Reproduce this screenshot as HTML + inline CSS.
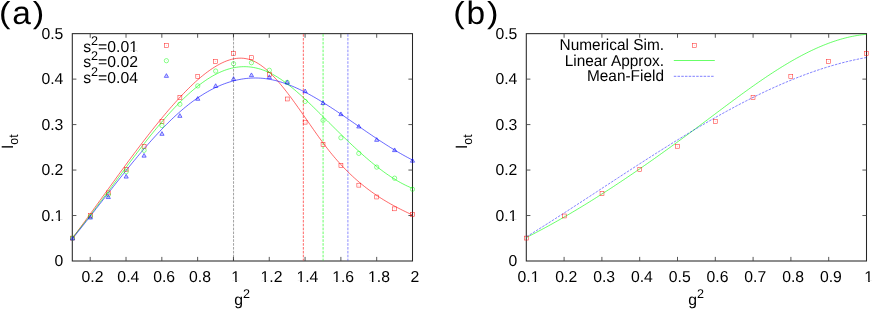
<!DOCTYPE html>
<html><head><meta charset="utf-8"><title>figure</title>
<style>html,body{margin:0;padding:0;background:#fff;}svg{display:block;}text{font-family:"Liberation Sans",sans-serif;fill:#000;text-rendering:geometricPrecision;}</style></head><body>
<svg width="872" height="310" viewBox="0 0 872 310">
<rect x="0" y="0" width="872" height="310" fill="#fff"/>
<g stroke="#262626" stroke-width="1.05" fill="none">
<rect x="72.30" y="33.65" width="340.20" height="227.35"/>
<path d="M90.21,261.00 v-4.10 M90.21,33.65 v4.10 M126.02,261.00 v-4.10 M126.02,33.65 v4.10 M161.83,261.00 v-4.10 M161.83,33.65 v4.10 M197.64,261.00 v-4.10 M197.64,33.65 v4.10 M233.45,261.00 v-4.10 M233.45,33.65 v4.10 M269.26,261.00 v-4.10 M269.26,33.65 v4.10 M305.07,261.00 v-4.10 M305.07,33.65 v4.10 M340.88,261.00 v-4.10 M340.88,33.65 v4.10 M376.69,261.00 v-4.10 M376.69,33.65 v4.10 M72.30,215.53 h4.10 M412.50,215.53 h-4.10 M72.30,170.06 h4.10 M412.50,170.06 h-4.10 M72.30,124.59 h4.10 M412.50,124.59 h-4.10 M72.30,79.12 h4.10 M412.50,79.12 h-4.10" stroke-width="0.9" stroke="#444"/>
</g>
<path d="M233.55,34.15 V260.50" stroke="#000" stroke-width="0.60" stroke-dasharray="2.6,1.27" fill="none" opacity="0.62"/>
<path d="M303.34,34.15 V260.50" stroke="#ff0000" stroke-width="1.00" stroke-dasharray="2.6,1.27" fill="none" opacity="0.60"/>
<path d="M323.08,34.15 V260.50" stroke="#00ff00" stroke-width="1.00" stroke-dasharray="2.6,1.27" fill="none" opacity="0.60"/>
<path d="M347.90,34.15 V260.50" stroke="#0000ff" stroke-width="1.00" stroke-dasharray="2.6,1.27" fill="none" opacity="0.45"/>
<path d="M72.50,238.03 L74.21,235.74 L75.92,233.45 L77.63,231.15 L79.33,228.84 L81.04,226.52 L82.75,224.20 L84.46,221.87 L86.17,219.53 L87.88,217.19 L89.59,214.84 L91.29,212.49 L93.00,210.13 L94.71,207.77 L96.42,205.40 L98.13,203.04 L99.84,200.67 L101.55,198.30 L103.25,195.93 L104.96,193.56 L106.67,191.19 L108.38,188.82 L110.09,186.45 L111.80,184.08 L113.51,181.72 L115.21,179.36 L116.92,177.00 L118.63,174.64 L120.34,172.29 L122.05,169.95 L123.76,167.61 L125.46,165.28 L127.17,162.95 L128.88,160.63 L130.59,158.32 L132.30,156.02 L134.01,153.72 L135.72,151.44 L137.42,149.17 L139.13,146.90 L140.84,144.65 L142.55,142.41 L144.26,140.18 L145.97,137.96 L147.68,135.76 L149.38,133.57 L151.09,131.39 L152.80,129.23 L154.51,127.09 L156.22,124.96 L157.93,122.85 L159.64,120.75 L161.34,118.67 L163.05,116.61 L164.76,114.57 L166.47,112.55 L168.18,110.54 L169.89,108.56 L171.60,106.60 L173.30,104.66 L175.01,102.74 L176.72,100.84 L178.43,98.97 L180.14,97.12 L181.85,95.30 L183.56,93.51 L185.26,91.74 L186.97,90.01 L188.68,88.30 L190.39,86.63 L192.10,84.99 L193.81,83.38 L195.52,81.81 L197.22,80.28 L198.93,78.78 L200.64,77.32 L202.35,75.91 L204.06,74.53 L205.77,73.20 L207.47,71.91 L209.18,70.67 L210.89,69.48 L212.60,68.33 L214.31,67.23 L216.02,66.18 L217.73,65.18 L219.43,64.24 L221.14,63.35 L222.85,62.52 L224.56,61.76 L226.27,61.06 L227.98,60.43 L229.69,59.87 L231.39,59.39 L233.10,58.98 L234.81,58.65 L236.52,58.40 L238.23,58.24 L239.94,58.16 L241.65,58.18 L243.35,58.29 L245.06,58.50 L246.77,58.80 L248.48,59.21 L250.19,59.72 L251.90,60.34 L253.61,61.06 L255.31,61.89 L257.02,62.83 L258.73,63.86 L260.44,64.99 L262.15,66.21 L263.86,67.52 L265.57,68.91 L267.27,70.39 L268.98,71.94 L270.69,73.58 L272.40,75.28 L274.11,77.05 L275.82,78.90 L277.53,80.80 L279.23,82.76 L280.94,84.78 L282.65,86.85 L284.36,88.98 L286.07,91.15 L287.78,93.36 L289.48,95.61 L291.19,97.90 L292.90,100.23 L294.61,102.58 L296.32,104.96 L298.03,107.36 L299.74,109.79 L301.44,112.23 L303.15,114.68 L304.86,117.14 L306.57,119.60 L308.28,122.06 L309.99,124.52 L311.70,126.98 L313.40,129.42 L315.11,131.86 L316.82,134.27 L318.53,136.66 L320.24,139.03 L321.95,141.37 L323.66,143.67 L325.36,145.94 L327.07,148.17 L328.78,150.36 L330.49,152.50 L332.20,154.60 L333.91,156.65 L335.62,158.65 L337.32,160.61 L339.03,162.53 L340.74,164.40 L342.45,166.24 L344.16,168.03 L345.87,169.78 L347.58,171.50 L349.28,173.17 L350.99,174.81 L352.70,176.41 L354.41,177.97 L356.12,179.50 L357.83,181.00 L359.54,182.46 L361.24,183.88 L362.95,185.28 L364.66,186.64 L366.37,187.97 L368.08,189.27 L369.79,190.54 L371.49,191.78 L373.20,193.00 L374.91,194.18 L376.62,195.35 L378.33,196.48 L380.04,197.59 L381.75,198.68 L383.45,199.74 L385.16,200.78 L386.87,201.80 L388.58,202.79 L390.29,203.77 L392.00,204.73 L393.71,205.66 L395.41,206.58 L397.12,207.49 L398.83,208.37 L400.54,209.24 L402.25,210.10 L403.96,210.94 L405.67,211.76 L407.37,212.58 L409.08,213.38 L410.79,214.17 L412.50,214.95" stroke="#ff0000" stroke-width="0.70" fill="none" opacity="0.85"/>
<path d="M72.50,237.74 L74.21,235.66 L75.92,233.56 L77.63,231.44 L79.33,229.31 L81.04,227.16 L82.75,225.00 L84.46,222.82 L86.17,220.62 L87.88,218.42 L89.59,216.20 L91.29,213.97 L93.00,211.73 L94.71,209.47 L96.42,207.21 L98.13,204.95 L99.84,202.67 L101.55,200.39 L103.25,198.10 L104.96,195.81 L106.67,193.51 L108.38,191.21 L110.09,188.90 L111.80,186.60 L113.51,184.29 L115.21,181.98 L116.92,179.67 L118.63,177.37 L120.34,175.07 L122.05,172.77 L123.76,170.47 L125.46,168.18 L127.17,165.89 L128.88,163.61 L130.59,161.34 L132.30,159.07 L134.01,156.81 L135.72,154.56 L137.42,152.33 L139.13,150.10 L140.84,147.88 L142.55,145.68 L144.26,143.49 L145.97,141.31 L147.68,139.15 L149.38,137.01 L151.09,134.88 L152.80,132.77 L154.51,130.68 L156.22,128.60 L157.93,126.55 L159.64,124.52 L161.34,122.50 L163.05,120.51 L164.76,118.55 L166.47,116.60 L168.18,114.68 L169.89,112.79 L171.60,110.92 L173.30,109.08 L175.01,107.27 L176.72,105.49 L178.43,103.73 L180.14,102.01 L181.85,100.31 L183.56,98.65 L185.26,97.02 L186.97,95.43 L188.68,93.86 L190.39,92.34 L192.10,90.85 L193.81,89.39 L195.52,87.97 L197.22,86.59 L198.93,85.25 L200.64,83.95 L202.35,82.69 L204.06,81.48 L205.77,80.30 L207.47,79.17 L209.18,78.08 L210.89,77.03 L212.60,76.03 L214.31,75.08 L216.02,74.17 L217.73,73.31 L219.43,72.50 L221.14,71.74 L222.85,71.03 L224.56,70.37 L226.27,69.76 L227.98,69.21 L229.69,68.71 L231.39,68.26 L233.10,67.87 L234.81,67.53 L236.52,67.25 L238.23,67.02 L239.94,66.85 L241.65,66.74 L243.35,66.68 L245.06,66.68 L246.77,66.73 L248.48,66.84 L250.19,67.01 L251.90,67.23 L253.61,67.51 L255.31,67.84 L257.02,68.23 L258.73,68.67 L260.44,69.17 L262.15,69.72 L263.86,70.33 L265.57,71.00 L267.27,71.72 L268.98,72.49 L270.69,73.32 L272.40,74.20 L274.11,75.14 L275.82,76.13 L277.53,77.16 L279.23,78.25 L280.94,79.37 L282.65,80.54 L284.36,81.76 L286.07,83.01 L287.78,84.30 L289.48,85.63 L291.19,86.99 L292.90,88.39 L294.61,89.82 L296.32,91.27 L298.03,92.76 L299.74,94.27 L301.44,95.81 L303.15,97.37 L304.86,98.95 L306.57,100.55 L308.28,102.16 L309.99,103.80 L311.70,105.45 L313.40,107.11 L315.11,108.78 L316.82,110.46 L318.53,112.15 L320.24,113.84 L321.95,115.54 L323.66,117.24 L325.36,118.94 L327.07,120.64 L328.78,122.34 L330.49,124.04 L332.20,125.73 L333.91,127.43 L335.62,129.12 L337.32,130.80 L339.03,132.48 L340.74,134.15 L342.45,135.82 L344.16,137.48 L345.87,139.12 L347.58,140.76 L349.28,142.39 L350.99,144.01 L352.70,145.62 L354.41,147.21 L356.12,148.79 L357.83,150.36 L359.54,151.91 L361.24,153.45 L362.95,154.97 L364.66,156.47 L366.37,157.95 L368.08,159.42 L369.79,160.87 L371.49,162.29 L373.20,163.69 L374.91,165.08 L376.62,166.44 L378.33,167.77 L380.04,169.08 L381.75,170.37 L383.45,171.63 L385.16,172.86 L386.87,174.07 L388.58,175.24 L390.29,176.39 L392.00,177.51 L393.71,178.60 L395.41,179.65 L397.12,180.68 L398.83,181.67 L400.54,182.63 L402.25,183.55 L403.96,184.43 L405.67,185.29 L407.37,186.10 L409.08,186.87 L410.79,187.61 L412.50,188.31" stroke="#00ff00" stroke-width="0.70" fill="none" opacity="0.85"/>
<path d="M72.50,238.63 L74.21,236.51 L75.92,234.39 L77.63,232.26 L79.33,230.11 L81.04,227.96 L82.75,225.80 L84.46,223.64 L86.17,221.47 L87.88,219.29 L89.59,217.11 L91.29,214.92 L93.00,212.73 L94.71,210.54 L96.42,208.35 L98.13,206.15 L99.84,203.95 L101.55,201.76 L103.25,199.56 L104.96,197.36 L106.67,195.17 L108.38,192.98 L110.09,190.79 L111.80,188.60 L113.51,186.42 L115.21,184.24 L116.92,182.07 L118.63,179.91 L120.34,177.75 L122.05,175.60 L123.76,173.46 L125.46,171.33 L127.17,169.20 L128.88,167.09 L130.59,164.98 L132.30,162.89 L134.01,160.81 L135.72,158.75 L137.42,156.69 L139.13,154.65 L140.84,152.63 L142.55,150.62 L144.26,148.62 L145.97,146.65 L147.68,144.69 L149.38,142.74 L151.09,140.82 L152.80,138.91 L154.51,137.03 L156.22,135.17 L157.93,133.32 L159.64,131.50 L161.34,129.70 L163.05,127.93 L164.76,126.17 L166.47,124.45 L168.18,122.74 L169.89,121.07 L171.60,119.41 L173.30,117.79 L175.01,116.19 L176.72,114.63 L178.43,113.09 L180.14,111.58 L181.85,110.10 L183.56,108.65 L185.26,107.23 L186.97,105.85 L188.68,104.49 L190.39,103.17 L192.10,101.89 L193.81,100.63 L195.52,99.41 L197.22,98.22 L198.93,97.06 L200.64,95.94 L202.35,94.85 L204.06,93.79 L205.77,92.76 L207.47,91.77 L209.18,90.82 L210.89,89.89 L212.60,89.00 L214.31,88.15 L216.02,87.32 L217.73,86.53 L219.43,85.78 L221.14,85.06 L222.85,84.37 L224.56,83.72 L226.27,83.11 L227.98,82.52 L229.69,81.98 L231.39,81.46 L233.10,80.98 L234.81,80.54 L236.52,80.13 L238.23,79.76 L239.94,79.42 L241.65,79.12 L243.35,78.85 L245.06,78.62 L246.77,78.43 L248.48,78.27 L250.19,78.15 L251.90,78.06 L253.61,78.01 L255.31,77.99 L257.02,78.01 L258.73,78.07 L260.44,78.16 L262.15,78.29 L263.86,78.46 L265.57,78.67 L267.27,78.91 L268.98,79.18 L270.69,79.50 L272.40,79.84 L274.11,80.22 L275.82,80.64 L277.53,81.08 L279.23,81.56 L280.94,82.07 L282.65,82.61 L284.36,83.18 L286.07,83.77 L287.78,84.40 L289.48,85.05 L291.19,85.73 L292.90,86.44 L294.61,87.17 L296.32,87.93 L298.03,88.71 L299.74,89.51 L301.44,90.34 L303.15,91.19 L304.86,92.06 L306.57,92.95 L308.28,93.86 L309.99,94.79 L311.70,95.73 L313.40,96.70 L315.11,97.68 L316.82,98.68 L318.53,99.69 L320.24,100.72 L321.95,101.77 L323.66,102.82 L325.36,103.89 L327.07,104.97 L328.78,106.07 L330.49,107.17 L332.20,108.29 L333.91,109.41 L335.62,110.54 L337.32,111.68 L339.03,112.83 L340.74,113.98 L342.45,115.14 L344.16,116.30 L345.87,117.47 L347.58,118.64 L349.28,119.82 L350.99,121.00 L352.70,122.18 L354.41,123.36 L356.12,124.54 L357.83,125.72 L359.54,126.90 L361.24,128.08 L362.95,129.25 L364.66,130.43 L366.37,131.60 L368.08,132.77 L369.79,133.93 L371.49,135.09 L373.20,136.25 L374.91,137.39 L376.62,138.54 L378.33,139.67 L380.04,140.80 L381.75,141.92 L383.45,143.03 L385.16,144.13 L386.87,145.22 L388.58,146.30 L390.29,147.37 L392.00,148.43 L393.71,149.48 L395.41,150.51 L397.12,151.53 L398.83,152.53 L400.54,153.53 L402.25,154.50 L403.96,155.46 L405.67,156.41 L407.37,157.34 L409.08,158.25 L410.79,159.14 L412.50,160.01" stroke="#0000ff" stroke-width="0.70" fill="none" opacity="0.85"/>
<g stroke="#ff0000" color="#ff0000" stroke-width="0.55" fill="none" opacity="0.82">
<rect x="70.55" y="236.14" width="3.90" height="3.90"/><circle cx="72.50" cy="238.09" r="0.42" fill="currentColor" stroke="none" opacity="0.45"/>
<rect x="88.44" y="213.70" width="3.90" height="3.90"/><circle cx="90.39" cy="215.65" r="0.42" fill="currentColor" stroke="none" opacity="0.45"/>
<rect x="106.34" y="190.95" width="3.90" height="3.90"/><circle cx="108.29" cy="192.90" r="0.42" fill="currentColor" stroke="none" opacity="0.45"/>
<rect x="124.23" y="167.29" width="3.90" height="3.90"/><circle cx="126.18" cy="169.24" r="0.42" fill="currentColor" stroke="none" opacity="0.45"/>
<rect x="142.13" y="144.32" width="3.90" height="3.90"/><circle cx="144.08" cy="146.27" r="0.42" fill="currentColor" stroke="none" opacity="0.45"/>
<rect x="160.02" y="119.52" width="3.90" height="3.90"/><circle cx="161.97" cy="121.47" r="0.42" fill="currentColor" stroke="none" opacity="0.45"/>
<rect x="177.92" y="95.54" width="3.90" height="3.90"/><circle cx="179.87" cy="97.49" r="0.42" fill="currentColor" stroke="none" opacity="0.45"/>
<rect x="195.81" y="74.38" width="3.90" height="3.90"/><circle cx="197.76" cy="76.33" r="0.42" fill="currentColor" stroke="none" opacity="0.45"/>
<rect x="213.71" y="59.55" width="3.90" height="3.90"/><circle cx="215.66" cy="61.50" r="0.42" fill="currentColor" stroke="none" opacity="0.45"/>
<rect x="231.60" y="51.45" width="3.90" height="3.90"/><circle cx="233.55" cy="53.40" r="0.42" fill="currentColor" stroke="none" opacity="0.45"/>
<rect x="249.50" y="55.73" width="3.90" height="3.90"/><circle cx="251.45" cy="57.68" r="0.42" fill="currentColor" stroke="none" opacity="0.45"/>
<rect x="267.39" y="72.43" width="3.90" height="3.90"/><circle cx="269.34" cy="74.38" r="0.42" fill="currentColor" stroke="none" opacity="0.45"/>
<rect x="285.29" y="97.04" width="3.90" height="3.90"/><circle cx="287.24" cy="98.99" r="0.42" fill="currentColor" stroke="none" opacity="0.45"/>
<rect x="303.18" y="120.20" width="3.90" height="3.90"/><circle cx="305.13" cy="122.15" r="0.42" fill="currentColor" stroke="none" opacity="0.45"/>
<rect x="321.08" y="142.36" width="3.90" height="3.90"/><circle cx="323.03" cy="144.31" r="0.42" fill="currentColor" stroke="none" opacity="0.45"/>
<rect x="338.97" y="163.43" width="3.90" height="3.90"/><circle cx="340.92" cy="165.38" r="0.42" fill="currentColor" stroke="none" opacity="0.45"/>
<rect x="356.87" y="183.22" width="3.90" height="3.90"/><circle cx="358.82" cy="185.17" r="0.42" fill="currentColor" stroke="none" opacity="0.45"/>
<rect x="374.76" y="195.05" width="3.90" height="3.90"/><circle cx="376.71" cy="197.00" r="0.42" fill="currentColor" stroke="none" opacity="0.45"/>
<rect x="392.66" y="206.88" width="3.90" height="3.90"/><circle cx="394.61" cy="208.83" r="0.42" fill="currentColor" stroke="none" opacity="0.45"/>
<rect x="410.55" y="212.43" width="3.90" height="3.90"/><circle cx="412.50" cy="214.38" r="0.42" fill="currentColor" stroke="none" opacity="0.45"/>
<rect x="164.45" y="43.45" width="3.90" height="3.90"/><circle cx="166.40" cy="45.40" r="0.42" fill="currentColor" stroke="none" opacity="0.45"/>
</g>
<g stroke="#00ff00" color="#00ff00" stroke-width="0.55" fill="none" opacity="0.85">
<circle cx="72.50" cy="238.09" r="2.15"/><circle cx="72.50" cy="238.09" r="0.42" fill="currentColor" stroke="none" opacity="0.45"/>
<circle cx="90.39" cy="216.56" r="2.15"/><circle cx="90.39" cy="216.56" r="0.42" fill="currentColor" stroke="none" opacity="0.45"/>
<circle cx="108.29" cy="194.72" r="2.15"/><circle cx="108.29" cy="194.72" r="0.42" fill="currentColor" stroke="none" opacity="0.45"/>
<circle cx="126.18" cy="171.70" r="2.15"/><circle cx="126.18" cy="171.70" r="0.42" fill="currentColor" stroke="none" opacity="0.45"/>
<circle cx="144.08" cy="150.32" r="2.15"/><circle cx="144.08" cy="150.32" r="0.42" fill="currentColor" stroke="none" opacity="0.45"/>
<circle cx="161.97" cy="125.56" r="2.15"/><circle cx="161.97" cy="125.56" r="0.42" fill="currentColor" stroke="none" opacity="0.45"/>
<circle cx="179.87" cy="104.27" r="2.15"/><circle cx="179.87" cy="104.27" r="0.42" fill="currentColor" stroke="none" opacity="0.45"/>
<circle cx="197.76" cy="85.89" r="2.15"/><circle cx="197.76" cy="85.89" r="0.42" fill="currentColor" stroke="none" opacity="0.45"/>
<circle cx="215.66" cy="71.06" r="2.15"/><circle cx="215.66" cy="71.06" r="0.42" fill="currentColor" stroke="none" opacity="0.45"/>
<circle cx="233.55" cy="63.73" r="2.15"/><circle cx="233.55" cy="63.73" r="0.42" fill="currentColor" stroke="none" opacity="0.45"/>
<circle cx="251.45" cy="62.73" r="2.15"/><circle cx="251.45" cy="62.73" r="0.42" fill="currentColor" stroke="none" opacity="0.45"/>
<circle cx="269.34" cy="70.28" r="2.15"/><circle cx="269.34" cy="70.28" r="0.42" fill="currentColor" stroke="none" opacity="0.45"/>
<circle cx="287.24" cy="82.34" r="2.15"/><circle cx="287.24" cy="82.34" r="0.42" fill="currentColor" stroke="none" opacity="0.45"/>
<circle cx="305.13" cy="101.45" r="2.15"/><circle cx="305.13" cy="101.45" r="0.42" fill="currentColor" stroke="none" opacity="0.45"/>
<circle cx="323.03" cy="120.38" r="2.15"/><circle cx="323.03" cy="120.38" r="0.42" fill="currentColor" stroke="none" opacity="0.45"/>
<circle cx="340.92" cy="137.76" r="2.15"/><circle cx="340.92" cy="137.76" r="0.42" fill="currentColor" stroke="none" opacity="0.45"/>
<circle cx="358.82" cy="153.37" r="2.15"/><circle cx="358.82" cy="153.37" r="0.42" fill="currentColor" stroke="none" opacity="0.45"/>
<circle cx="376.71" cy="167.11" r="2.15"/><circle cx="376.71" cy="167.11" r="0.42" fill="currentColor" stroke="none" opacity="0.45"/>
<circle cx="394.61" cy="178.21" r="2.15"/><circle cx="394.61" cy="178.21" r="0.42" fill="currentColor" stroke="none" opacity="0.45"/>
<circle cx="412.50" cy="189.26" r="2.15"/><circle cx="412.50" cy="189.26" r="0.42" fill="currentColor" stroke="none" opacity="0.45"/>
<circle cx="166.40" cy="60.70" r="2.15"/><circle cx="166.40" cy="60.70" r="0.42" fill="currentColor" stroke="none" opacity="0.45"/>
</g>
<g stroke="#0000ff" color="#0000ff" stroke-width="0.65" fill="none" opacity="0.85">
<path d="M72.50,236.25 L70.40,239.95 L74.60,239.95 Z" fill="currentColor" fill-opacity="0.18"/><circle cx="72.50" cy="238.40" r="0.42" fill="currentColor" stroke="none" opacity="0.45"/>
<path d="M90.39,215.32 L88.29,219.03 L92.49,219.03 Z" fill="currentColor" fill-opacity="0.18"/><circle cx="90.39" cy="217.47" r="0.42" fill="currentColor" stroke="none" opacity="0.45"/>
<path d="M108.29,194.85 L106.19,198.55 L110.39,198.55 Z" fill="currentColor" fill-opacity="0.18"/><circle cx="108.29" cy="197.00" r="0.42" fill="currentColor" stroke="none" opacity="0.45"/>
<path d="M126.18,174.37 L124.08,178.07 L128.28,178.07 Z" fill="currentColor" fill-opacity="0.18"/><circle cx="126.18" cy="176.52" r="0.42" fill="currentColor" stroke="none" opacity="0.45"/>
<path d="M144.08,153.44 L141.98,157.14 L146.18,157.14 Z" fill="currentColor" fill-opacity="0.18"/><circle cx="144.08" cy="155.59" r="0.42" fill="currentColor" stroke="none" opacity="0.45"/>
<path d="M161.97,131.60 L159.87,135.31 L164.07,135.31 Z" fill="currentColor" fill-opacity="0.18"/><circle cx="161.97" cy="133.75" r="0.42" fill="currentColor" stroke="none" opacity="0.45"/>
<path d="M179.87,113.63 L177.77,117.33 L181.97,117.33 Z" fill="currentColor" fill-opacity="0.18"/><circle cx="179.87" cy="115.78" r="0.42" fill="currentColor" stroke="none" opacity="0.45"/>
<path d="M197.76,96.57 L195.66,100.27 L199.86,100.27 Z" fill="currentColor" fill-opacity="0.18"/><circle cx="197.76" cy="98.72" r="0.42" fill="currentColor" stroke="none" opacity="0.45"/>
<path d="M215.66,83.74 L213.56,87.44 L217.76,87.44 Z" fill="currentColor" fill-opacity="0.18"/><circle cx="215.66" cy="85.89" r="0.42" fill="currentColor" stroke="none" opacity="0.45"/>
<path d="M233.55,76.69 L231.45,80.39 L235.65,80.39 Z" fill="currentColor" fill-opacity="0.18"/><circle cx="233.55" cy="78.84" r="0.42" fill="currentColor" stroke="none" opacity="0.45"/>
<path d="M251.45,72.91 L249.35,76.61 L253.55,76.61 Z" fill="currentColor" fill-opacity="0.18"/><circle cx="251.45" cy="75.06" r="0.42" fill="currentColor" stroke="none" opacity="0.45"/>
<path d="M269.34,74.91 L267.24,78.61 L271.44,78.61 Z" fill="currentColor" fill-opacity="0.18"/><circle cx="269.34" cy="77.06" r="0.42" fill="currentColor" stroke="none" opacity="0.45"/>
<path d="M287.24,80.19 L285.14,83.89 L289.34,83.89 Z" fill="currentColor" fill-opacity="0.18"/><circle cx="287.24" cy="82.34" r="0.42" fill="currentColor" stroke="none" opacity="0.45"/>
<path d="M305.13,89.02 L303.03,92.72 L307.23,92.72 Z" fill="currentColor" fill-opacity="0.18"/><circle cx="305.13" cy="91.17" r="0.42" fill="currentColor" stroke="none" opacity="0.45"/>
<path d="M323.03,100.85 L320.93,104.55 L325.13,104.55 Z" fill="currentColor" fill-opacity="0.18"/><circle cx="323.03" cy="103.00" r="0.42" fill="currentColor" stroke="none" opacity="0.45"/>
<path d="M340.92,111.95 L338.82,115.65 L343.02,115.65 Z" fill="currentColor" fill-opacity="0.18"/><circle cx="340.92" cy="114.10" r="0.42" fill="currentColor" stroke="none" opacity="0.45"/>
<path d="M358.82,124.28 L356.72,127.98 L360.92,127.98 Z" fill="currentColor" fill-opacity="0.18"/><circle cx="358.82" cy="126.43" r="0.42" fill="currentColor" stroke="none" opacity="0.45"/>
<path d="M376.71,137.61 L374.61,141.31 L378.81,141.31 Z" fill="currentColor" fill-opacity="0.18"/><circle cx="376.71" cy="139.76" r="0.42" fill="currentColor" stroke="none" opacity="0.45"/>
<path d="M394.61,147.94 L392.51,151.64 L396.71,151.64 Z" fill="currentColor" fill-opacity="0.18"/><circle cx="394.61" cy="150.09" r="0.42" fill="currentColor" stroke="none" opacity="0.45"/>
<path d="M412.50,158.50 L410.40,162.20 L414.60,162.20 Z" fill="currentColor" fill-opacity="0.18"/><circle cx="412.50" cy="160.65" r="0.42" fill="currentColor" stroke="none" opacity="0.45"/>
<path d="M166.40,73.65 L164.30,77.35 L168.50,77.35 Z" fill="currentColor" fill-opacity="0.18"/><circle cx="166.40" cy="75.80" r="0.42" fill="currentColor" stroke="none" opacity="0.45"/>
</g>
<g stroke="#262626" stroke-width="1.05" fill="none">
<rect x="526.30" y="33.65" width="340.20" height="227.35"/>
<path d="M564.10,261.00 v-4.10 M564.10,33.65 v4.10 M601.90,261.00 v-4.10 M601.90,33.65 v4.10 M639.70,261.00 v-4.10 M639.70,33.65 v4.10 M677.50,261.00 v-4.10 M677.50,33.65 v4.10 M715.30,261.00 v-4.10 M715.30,33.65 v4.10 M753.10,261.00 v-4.10 M753.10,33.65 v4.10 M790.90,261.00 v-4.10 M790.90,33.65 v4.10 M828.70,261.00 v-4.10 M828.70,33.65 v4.10 M526.30,215.53 h4.10 M866.50,215.53 h-4.10 M526.30,170.06 h4.10 M866.50,170.06 h-4.10 M526.30,124.59 h4.10 M866.50,124.59 h-4.10 M526.30,79.12 h4.10 M866.50,79.12 h-4.10" stroke-width="0.9" stroke="#444"/>
</g>
<path d="M526.50,237.44 L528.21,236.58 L529.92,235.71 L531.62,234.83 L533.33,233.95 L535.04,233.07 L536.75,232.17 L538.45,231.28 L540.16,230.37 L541.87,229.46 L543.58,228.54 L545.28,227.62 L546.99,226.70 L548.70,225.76 L550.41,224.82 L552.11,223.88 L553.82,222.93 L555.53,221.97 L557.24,221.01 L558.94,220.04 L560.65,219.07 L562.36,218.09 L564.07,217.11 L565.77,216.12 L567.48,215.13 L569.19,214.13 L570.90,213.13 L572.60,212.12 L574.31,211.10 L576.02,210.08 L577.73,209.06 L579.43,208.03 L581.14,207.00 L582.85,205.96 L584.56,204.91 L586.26,203.86 L587.97,202.81 L589.68,201.75 L591.39,200.69 L593.09,199.62 L594.80,198.55 L596.51,197.47 L598.22,196.39 L599.92,195.31 L601.63,194.22 L603.34,193.12 L605.05,192.02 L606.75,190.92 L608.46,189.81 L610.17,188.70 L611.88,187.58 L613.58,186.46 L615.29,185.34 L617.00,184.21 L618.71,183.08 L620.41,181.94 L622.12,180.80 L623.83,179.66 L625.54,178.51 L627.24,177.36 L628.95,176.20 L630.66,175.05 L632.37,173.88 L634.07,172.72 L635.78,171.55 L637.49,170.37 L639.20,169.20 L640.91,168.02 L642.61,166.83 L644.32,165.64 L646.03,164.45 L647.74,163.26 L649.44,162.06 L651.15,160.86 L652.86,159.66 L654.57,158.45 L656.27,157.24 L657.98,156.03 L659.69,154.81 L661.40,153.59 L663.10,152.37 L664.81,151.15 L666.52,149.92 L668.23,148.69 L669.93,147.46 L671.64,146.22 L673.35,144.98 L675.06,143.74 L676.76,142.50 L678.47,141.25 L680.18,140.00 L681.89,138.75 L683.59,137.50 L685.30,136.24 L687.01,134.98 L688.72,133.72 L690.42,132.46 L692.13,131.19 L693.84,129.93 L695.55,128.66 L697.25,127.38 L698.96,126.11 L700.67,124.83 L702.38,123.56 L704.08,122.28 L705.79,121.00 L707.50,119.71 L709.21,118.43 L710.91,117.15 L712.62,115.86 L714.33,114.58 L716.04,113.30 L717.74,112.01 L719.45,110.73 L721.16,109.45 L722.87,108.17 L724.57,106.89 L726.28,105.62 L727.99,104.34 L729.70,103.07 L731.40,101.80 L733.11,100.53 L734.82,99.27 L736.53,98.01 L738.23,96.76 L739.94,95.51 L741.65,94.26 L743.36,93.02 L745.06,91.78 L746.77,90.55 L748.48,89.33 L750.19,88.11 L751.89,86.89 L753.60,85.69 L755.31,84.49 L757.02,83.29 L758.73,82.11 L760.43,80.93 L762.14,79.76 L763.85,78.59 L765.56,77.44 L767.26,76.29 L768.97,75.16 L770.68,74.03 L772.39,72.91 L774.09,71.80 L775.80,70.71 L777.51,69.62 L779.22,68.54 L780.92,67.48 L782.63,66.42 L784.34,65.38 L786.05,64.35 L787.75,63.33 L789.46,62.32 L791.17,61.32 L792.88,60.34 L794.58,59.38 L796.29,58.42 L798.00,57.48 L799.71,56.55 L801.41,55.64 L803.12,54.74 L804.83,53.86 L806.54,52.99 L808.24,52.14 L809.95,51.30 L811.66,50.48 L813.37,49.68 L815.07,48.89 L816.78,48.12 L818.49,47.36 L820.20,46.63 L821.90,45.91 L823.61,45.21 L825.32,44.52 L827.03,43.86 L828.73,43.21 L830.44,42.59 L832.15,41.98 L833.86,41.39 L835.56,40.83 L837.27,40.28 L838.98,39.75 L840.69,39.25 L842.39,38.76 L844.10,38.30 L845.81,37.86 L847.52,37.44 L849.22,37.04 L850.93,36.67 L852.64,36.32 L854.35,35.99 L856.05,35.68 L857.76,35.40 L859.47,35.14 L861.18,34.91 L862.88,34.70 L864.59,34.51 L866.30,34.35" stroke="#00ff00" stroke-width="0.70" fill="none" opacity="0.85"/>
<path d="M526.50,236.75 L528.21,235.70 L529.92,234.65 L531.62,233.59 L533.33,232.53 L535.04,231.46 L536.75,230.40 L538.45,229.33 L540.16,228.25 L541.87,227.18 L543.58,226.10 L545.28,225.02 L546.99,223.94 L548.70,222.86 L550.41,221.77 L552.11,220.69 L553.82,219.60 L555.53,218.51 L557.24,217.41 L558.94,216.32 L560.65,215.22 L562.36,214.12 L564.07,213.02 L565.77,211.92 L567.48,210.82 L569.19,209.72 L570.90,208.61 L572.60,207.51 L574.31,206.40 L576.02,205.29 L577.73,204.18 L579.43,203.07 L581.14,201.96 L582.85,200.85 L584.56,199.73 L586.26,198.62 L587.97,197.50 L589.68,196.39 L591.39,195.27 L593.09,194.16 L594.80,193.04 L596.51,191.93 L598.22,190.81 L599.92,189.69 L601.63,188.58 L603.34,187.46 L605.05,186.34 L606.75,185.23 L608.46,184.11 L610.17,182.99 L611.88,181.88 L613.58,180.76 L615.29,179.65 L617.00,178.53 L618.71,177.42 L620.41,176.31 L622.12,175.20 L623.83,174.08 L625.54,172.97 L627.24,171.86 L628.95,170.76 L630.66,169.65 L632.37,168.54 L634.07,167.44 L635.78,166.33 L637.49,165.23 L639.20,164.13 L640.91,163.03 L642.61,161.93 L644.32,160.84 L646.03,159.74 L647.74,158.65 L649.44,157.56 L651.15,156.47 L652.86,155.38 L654.57,154.30 L656.27,153.21 L657.98,152.13 L659.69,151.06 L661.40,149.98 L663.10,148.91 L664.81,147.83 L666.52,146.76 L668.23,145.70 L669.93,144.63 L671.64,143.57 L673.35,142.52 L675.06,141.46 L676.76,140.41 L678.47,139.36 L680.18,138.31 L681.89,137.27 L683.59,136.23 L685.30,135.19 L687.01,134.16 L688.72,133.13 L690.42,132.10 L692.13,131.08 L693.84,130.06 L695.55,129.04 L697.25,128.03 L698.96,127.02 L700.67,126.02 L702.38,125.02 L704.08,124.02 L705.79,123.03 L707.50,122.04 L709.21,121.05 L710.91,120.07 L712.62,119.10 L714.33,118.13 L716.04,117.16 L717.74,116.20 L719.45,115.24 L721.16,114.29 L722.87,113.34 L724.57,112.40 L726.28,111.46 L727.99,110.52 L729.70,109.60 L731.40,108.67 L733.11,107.75 L734.82,106.84 L736.53,105.93 L738.23,105.03 L739.94,104.13 L741.65,103.24 L743.36,102.36 L745.06,101.48 L746.77,100.60 L748.48,99.73 L750.19,98.87 L751.89,98.01 L753.60,97.16 L755.31,96.32 L757.02,95.48 L758.73,94.64 L760.43,93.82 L762.14,93.00 L763.85,92.18 L765.56,91.37 L767.26,90.57 L768.97,89.78 L770.68,88.99 L772.39,88.21 L774.09,87.43 L775.80,86.67 L777.51,85.91 L779.22,85.15 L780.92,84.41 L782.63,83.67 L784.34,82.93 L786.05,82.21 L787.75,81.49 L789.46,80.78 L791.17,80.08 L792.88,79.38 L794.58,78.69 L796.29,78.01 L798.00,77.34 L799.71,76.68 L801.41,76.02 L803.12,75.37 L804.83,74.73 L806.54,74.10 L808.24,73.47 L809.95,72.85 L811.66,72.25 L813.37,71.65 L815.07,71.05 L816.78,70.47 L818.49,69.90 L820.20,69.33 L821.90,68.77 L823.61,68.22 L825.32,67.68 L827.03,67.15 L828.73,66.63 L830.44,66.12 L832.15,65.61 L833.86,65.12 L835.56,64.63 L837.27,64.16 L838.98,63.69 L840.69,63.23 L842.39,62.78 L844.10,62.35 L845.81,61.92 L847.52,61.50 L849.22,61.09 L850.93,60.69 L852.64,60.30 L854.35,59.92 L856.05,59.55 L857.76,59.19 L859.47,58.84 L861.18,58.50 L862.88,58.17 L864.59,57.85 L866.30,57.54" stroke="#0000ff" stroke-width="0.70" fill="none" opacity="0.72" stroke-dasharray="2.5,1.23"/>
<g stroke="#ff0000" color="#ff0000" stroke-width="0.55" fill="none" opacity="0.82">
<rect x="524.55" y="236.14" width="3.90" height="3.90"/><circle cx="526.50" cy="238.09" r="0.42" fill="currentColor" stroke="none" opacity="0.45"/>
<rect x="562.31" y="214.02" width="3.90" height="3.90"/><circle cx="564.26" cy="215.97" r="0.42" fill="currentColor" stroke="none" opacity="0.45"/>
<rect x="600.06" y="191.41" width="3.90" height="3.90"/><circle cx="602.01" cy="193.36" r="0.42" fill="currentColor" stroke="none" opacity="0.45"/>
<rect x="637.82" y="167.48" width="3.90" height="3.90"/><circle cx="639.77" cy="169.43" r="0.42" fill="currentColor" stroke="none" opacity="0.45"/>
<rect x="675.57" y="144.32" width="3.90" height="3.90"/><circle cx="677.52" cy="146.27" r="0.42" fill="currentColor" stroke="none" opacity="0.45"/>
<rect x="713.33" y="119.38" width="3.90" height="3.90"/><circle cx="715.28" cy="121.33" r="0.42" fill="currentColor" stroke="none" opacity="0.45"/>
<rect x="751.08" y="95.54" width="3.90" height="3.90"/><circle cx="753.03" cy="97.49" r="0.42" fill="currentColor" stroke="none" opacity="0.45"/>
<rect x="788.84" y="74.61" width="3.90" height="3.90"/><circle cx="790.79" cy="76.56" r="0.42" fill="currentColor" stroke="none" opacity="0.45"/>
<rect x="826.59" y="59.51" width="3.90" height="3.90"/><circle cx="828.54" cy="61.46" r="0.42" fill="currentColor" stroke="none" opacity="0.45"/>
<rect x="864.35" y="51.45" width="3.90" height="3.90"/><circle cx="866.30" cy="53.40" r="0.42" fill="currentColor" stroke="none" opacity="0.45"/>
<rect x="692.35" y="43.45" width="3.90" height="3.90"/><circle cx="694.30" cy="45.40" r="0.42" fill="currentColor" stroke="none" opacity="0.45"/>
</g>
<path d="M673.8,60.5 H714.8" stroke="#00ff00" stroke-width="0.70" fill="none" opacity="0.85"/>
<path d="M673.8,76.3 H714.8" stroke="#0000ff" stroke-width="0.70" fill="none" opacity="0.72" stroke-dasharray="2.5,1.23"/>
<defs><filter id="nf" filterUnits="userSpaceOnUse" x="0" y="0" width="872" height="310" color-interpolation-filters="sRGB"><feOffset dx="0" dy="0"/></filter></defs>
<g filter="url(#nf)">
<text transform="translate(63.30,266.35) scale(0.998,1)" font-size="15.80" text-anchor="end">0</text>
<text transform="translate(63.30,220.88) scale(0.998,1)" font-size="15.80" text-anchor="end">0.1</text><rect x="55.00" y="219.51" width="3.42" height="1.77" fill="#fff"/><rect x="59.97" y="219.51" width="3.11" height="1.77" fill="#fff"/>
<text transform="translate(63.30,175.41) scale(0.998,1)" font-size="15.80" text-anchor="end">0.2</text>
<text transform="translate(63.30,129.94) scale(0.998,1)" font-size="15.80" text-anchor="end">0.3</text>
<text transform="translate(63.30,84.47) scale(0.998,1)" font-size="15.80" text-anchor="end">0.4</text>
<text transform="translate(63.30,39.00) scale(0.998,1)" font-size="15.80" text-anchor="end">0.5</text>
<text transform="translate(74.60,281.60) scale(0.998,1)" font-size="15.80" text-anchor="middle"></text>
<text transform="translate(92.51,281.60) scale(0.998,1)" font-size="15.80" text-anchor="middle">0.2</text>
<text transform="translate(128.32,281.60) scale(0.998,1)" font-size="15.80" text-anchor="middle">0.4</text>
<text transform="translate(164.13,281.60) scale(0.998,1)" font-size="15.80" text-anchor="middle">0.6</text>
<text transform="translate(199.94,281.60) scale(0.998,1)" font-size="15.80" text-anchor="middle">0.8</text>
<text transform="translate(235.75,281.60) scale(0.998,1)" font-size="15.80" text-anchor="middle">1</text><rect x="231.83" y="280.23" width="3.42" height="1.77" fill="#fff"/><rect x="236.80" y="280.23" width="3.11" height="1.77" fill="#fff"/>
<text transform="translate(271.56,281.60) scale(0.998,1)" font-size="15.80" text-anchor="middle">1.2</text><rect x="261.07" y="280.23" width="3.42" height="1.77" fill="#fff"/><rect x="266.04" y="280.23" width="3.11" height="1.77" fill="#fff"/>
<text transform="translate(307.37,281.60) scale(0.998,1)" font-size="15.80" text-anchor="middle">1.4</text><rect x="296.88" y="280.23" width="3.42" height="1.77" fill="#fff"/><rect x="301.85" y="280.23" width="3.11" height="1.77" fill="#fff"/>
<text transform="translate(343.18,281.60) scale(0.998,1)" font-size="15.80" text-anchor="middle">1.6</text><rect x="332.69" y="280.23" width="3.42" height="1.77" fill="#fff"/><rect x="337.66" y="280.23" width="3.11" height="1.77" fill="#fff"/>
<text transform="translate(378.99,281.60) scale(0.998,1)" font-size="15.80" text-anchor="middle">1.8</text><rect x="368.50" y="280.23" width="3.42" height="1.77" fill="#fff"/><rect x="373.47" y="280.23" width="3.11" height="1.77" fill="#fff"/>
<text transform="translate(414.80,281.60) scale(0.998,1)" font-size="15.80" text-anchor="middle">2</text>
<text transform="translate(83.2,51.85) scale(0.998,1)" font-size="15.80">s<tspan dy="-7.0" font-size="12.64">2</tspan><tspan dy="7.0">=0.01</tspan></text>
<rect x="129.67" y="50.48" width="3.42" height="1.77" fill="#fff"/><rect x="134.64" y="50.48" width="3.11" height="1.77" fill="#fff"/>
<text transform="translate(83.2,67.30) scale(0.998,1)" font-size="15.80">s<tspan dy="-7.0" font-size="12.64">2</tspan><tspan dy="7.0">=0.02</tspan></text>
<text transform="translate(83.2,82.75) scale(0.998,1)" font-size="15.80">s<tspan dy="-7.0" font-size="12.64">2</tspan><tspan dy="7.0">=0.04</tspan></text>
<text transform="translate(517.30,266.35) scale(0.998,1)" font-size="15.80" text-anchor="end">0</text>
<text transform="translate(517.30,220.88) scale(0.998,1)" font-size="15.80" text-anchor="end">0.1</text><rect x="509.00" y="219.51" width="3.42" height="1.77" fill="#fff"/><rect x="513.97" y="219.51" width="3.11" height="1.77" fill="#fff"/>
<text transform="translate(517.30,175.41) scale(0.998,1)" font-size="15.80" text-anchor="end">0.2</text>
<text transform="translate(517.30,129.94) scale(0.998,1)" font-size="15.80" text-anchor="end">0.3</text>
<text transform="translate(517.30,84.47) scale(0.998,1)" font-size="15.80" text-anchor="end">0.4</text>
<text transform="translate(517.30,39.00) scale(0.998,1)" font-size="15.80" text-anchor="end">0.5</text>
<text transform="translate(528.50,281.60) scale(0.998,1)" font-size="15.80" text-anchor="middle">0.1</text><rect x="531.15" y="280.23" width="3.42" height="1.77" fill="#fff"/><rect x="536.12" y="280.23" width="3.11" height="1.77" fill="#fff"/>
<text transform="translate(566.30,281.60) scale(0.998,1)" font-size="15.80" text-anchor="middle">0.2</text>
<text transform="translate(604.10,281.60) scale(0.998,1)" font-size="15.80" text-anchor="middle">0.3</text>
<text transform="translate(641.90,281.60) scale(0.998,1)" font-size="15.80" text-anchor="middle">0.4</text>
<text transform="translate(679.70,281.60) scale(0.998,1)" font-size="15.80" text-anchor="middle">0.5</text>
<text transform="translate(717.50,281.60) scale(0.998,1)" font-size="15.80" text-anchor="middle">0.6</text>
<text transform="translate(755.30,281.60) scale(0.998,1)" font-size="15.80" text-anchor="middle">0.7</text>
<text transform="translate(793.10,281.60) scale(0.998,1)" font-size="15.80" text-anchor="middle">0.8</text>
<text transform="translate(830.90,281.60) scale(0.998,1)" font-size="15.80" text-anchor="middle">0.9</text>
<text transform="translate(868.70,281.60) scale(0.998,1)" font-size="15.80" text-anchor="middle">1</text><rect x="864.78" y="280.23" width="3.42" height="1.77" fill="#fff"/><rect x="869.75" y="280.23" width="3.11" height="1.77" fill="#fff"/>
<text transform="translate(664.00,50.20) scale(0.975,1)" font-size="15.80" text-anchor="end">Numerical Sim.</text>
<text transform="translate(664.00,65.65) scale(0.975,1)" font-size="15.80" text-anchor="end">Linear Approx.</text>
<text transform="translate(664.00,81.10) scale(0.975,1)" font-size="15.80" text-anchor="end">Mean-Field</text>
<text transform="translate(234.30,305.4) scale(0.998,1)" font-size="15.80">g<tspan dy="-7" font-size="12.64">2</tspan></text>
<text transform="translate(12.60,149.0) rotate(-90) scale(0.978,1.039)" font-size="15.80">I<tspan dy="5.0" font-size="12.64">ot</tspan></text>
<text transform="translate(688.30,305.4) scale(0.998,1)" font-size="15.80">g<tspan dy="-7" font-size="12.64">2</tspan></text>
<text transform="translate(466.60,149.0) rotate(-90) scale(0.978,1.039)" font-size="15.80">I<tspan dy="5.0" font-size="12.64">ot</tspan></text>
<text transform="translate(-1.10,23.3) scale(1.13,1)" font-size="30.5">(</text>
<text transform="translate(12.30,24.3) scale(1.03,1)" font-size="32.5">a</text>
<text transform="translate(32.70,23.3) scale(1.13,1)" font-size="30.5">)</text>
<text transform="translate(453.25,23.3) scale(1.13,1)" font-size="30.5">(</text>
<text transform="translate(466.50,24.3) scale(1.03,1)" font-size="32.5">b</text>
<text transform="translate(487.10,23.3) scale(1.13,1)" font-size="30.5">)</text>
</g>
</svg></body></html>
